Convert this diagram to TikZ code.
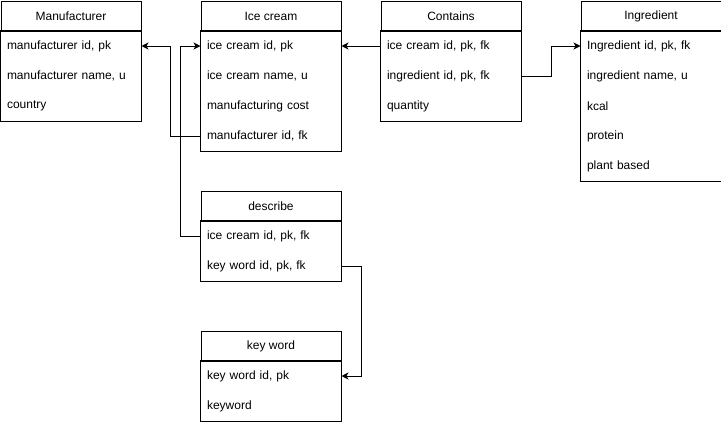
\documentclass[tikz,border=0pt]{standalone}
\usepackage{fontspec}
\setmainfont{Liberation Sans}
\usetikzlibrary{arrows.meta}
\begin{document}
\begin{tikzpicture}[x=1pt,y=-1pt,line width=1pt,
  hdr/.style={draw, minimum width=140pt, minimum height=30pt, inner sep=0pt, anchor=north west, font=\fontsize{12}{14}\selectfont},
  fld/.style={minimum width=140pt, minimum height=30pt, inner xsep=6pt, inner ysep=0pt, text width=128pt, align=left, anchor=north west, font=\fontsize{12}{14}\selectfont},
  arr/.style={-{Stealth[length=7pt,width=7pt,inset=2pt]}}]
\useasboundingbox (0,0) rectangle (721,421);

% Manufacturer
\node[hdr] (mh) at (0.5,0.5) {Manufacturer};
\node[fld] (m1) at (0.5,30.5) {manufacturer id, pk};
\node[fld] (m2) at (0.5,60.5) {manufacturer name, u};
\node[fld] (m3) at (0.5,90.5) {country};
\draw (m1.north west) rectangle (m3.south east);

% Ice cream
\node[hdr] (ih) at (200.5,0.5) {Ice cream};
\node[fld] (i1) at (200.5,30.5) {ice cream id, pk};
\node[fld] (i2) at (200.5,60.5) {ice cream name, u};
\node[fld] (i3) at (200.5,90.5) {manufacturing cost};
\node[fld] (i4) at (200.5,120.5) {manufacturer id, fk};
\draw (i1.north west) rectangle (i4.south east);

% Contains
\node[hdr] (ch) at (380.5,0.5) {Contains};
\node[fld] (c1) at (380.5,30.5) {ice cream id, pk, fk};
\node[fld] (c2) at (380.5,60.5) {ingredient id, pk, fk};
\node[fld] (c3) at (380.5,90.5) {quantity};
\draw (c1.north west) rectangle (c3.south east);

% Ingredient
\node[hdr] (gh) at (580.5,0.5) {Ingredient};
\node[fld] (g1) at (580.5,30.5) {Ingredient id, pk, fk};
\node[fld] (g2) at (580.5,60.5) {ingredient name, u};
\node[fld] (g3) at (580.5,90.5) {kcal};
\node[fld] (g4) at (580.5,120.5) {protein};
\node[fld] (g5) at (580.5,150.5) {plant based};
\draw (g1.north west) rectangle (g5.south east);

% describe
\node[hdr] (dh) at (200.5,190.5) {describe};
\node[fld] (d1) at (200.5,220.5) {ice cream id, pk, fk};
\node[fld] (d2) at (200.5,250.5) {key word id, pk, fk};
\draw (d1.north west) rectangle (d2.south east);

% key word
\node[hdr] (kh) at (200.5,330.5) {key word};
\node[fld] (k1) at (200.5,360.5) {key word id, pk};
\node[fld] (k2) at (200.5,390.5) {keyword};
\draw (k1.north west) rectangle (k2.south east);

% connectors
\draw[arr] (i4.west) -- ++(-30,0) |- (m1.east);
\draw[arr] (d1.west) -- ++(-20,0) |- (i1.west);
\draw[arr] (c1.west) -- (i1.east);
\draw[arr] (c2.east) -- ++(30,0) |- (g1.west);
\draw[arr] (d2.east) -- ++(20,0) |- (k1.east);
\end{tikzpicture}
\end{document}
